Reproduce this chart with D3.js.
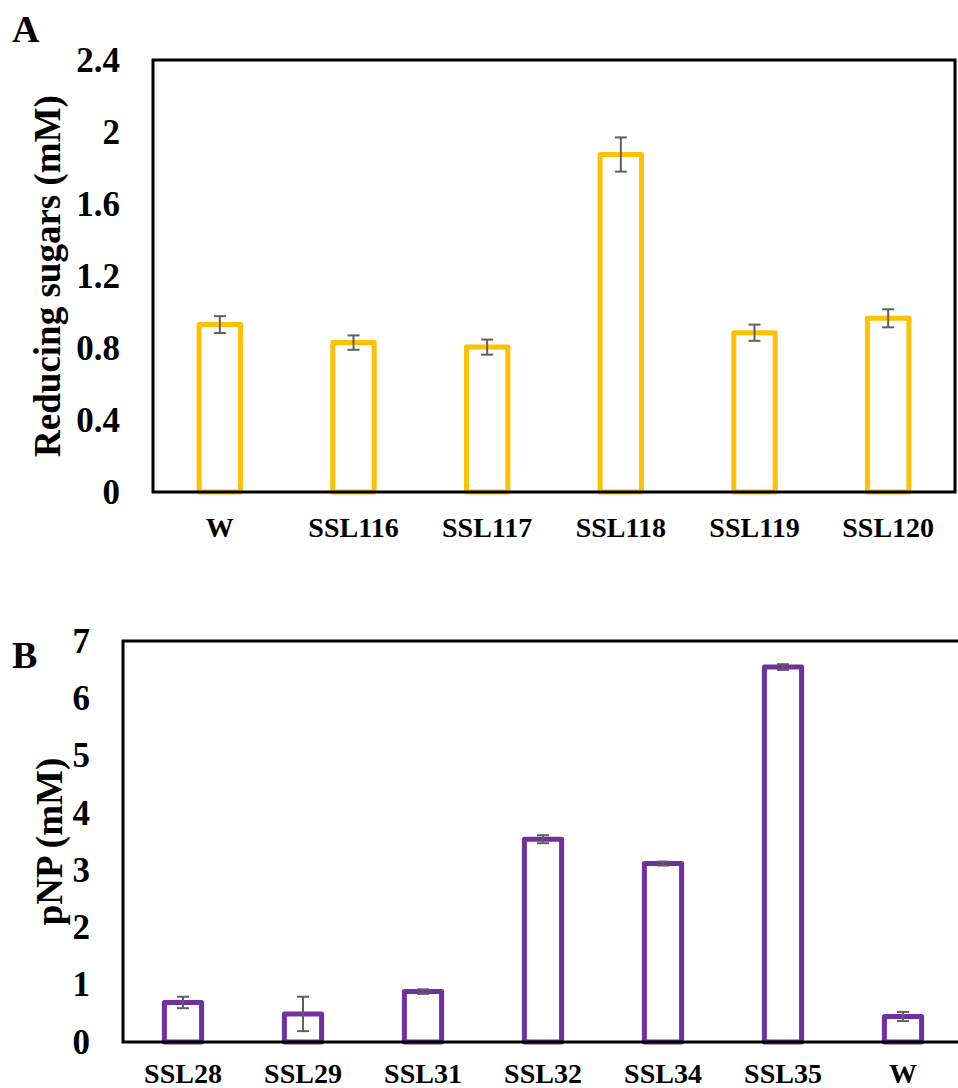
<!DOCTYPE html>
<html>
<head>
<meta charset="utf-8">
<script src="https://cdn.jsdelivr.net/npm/d3@7"></script>
<style>
  html, body { margin: 0; padding: 0; background: #fff; }
  svg { display: block; }
  text { font-family: "Liberation Serif", "Times New Roman", serif; font-weight: bold; fill: #000; }
</style>
</head>
<body>
<script>
// Panel A: reducing sugars released by each strain
const strainsA = ["W", "SSL116", "SSL117", "SSL118", "SSL119", "SSL120"];
const sugarsA = [0.93, 0.83, 0.805, 1.875, 0.885, 0.965];
const sugarsErrA = [0.047, 0.04, 0.042, 0.095, 0.045, 0.05];
const ticksA = [0, 0.4, 0.8, 1.2, 1.6, 2, 2.4];

// Panel B: pNP released by each strain
const strainsB = ["SSL28", "SSL29", "SSL31", "SSL32", "SSL34", "SSL35", "W"];
const pnpB = [0.69, 0.49, 0.88, 3.54, 3.115, 6.545, 0.445];
const pnpErrB = [0.1, 0.3, 0.04, 0.07, 0.035, 0.05, 0.08];
const ticksB = [0, 1, 2, 3, 4, 5, 6, 7];

const W = 958, H = 1088;
const svg = d3.select("body").append("svg").attr("width", W).attr("height", H);

function panel(cfg) {
  const x = d3.scaleBand().domain(cfg.cats).range([cfg.left, cfg.right]);
  const y = d3.scaleLinear().domain([0, cfg.max]).range([cfg.bottom, cfg.top]);
  const barW = x.bandwidth() * 0.31;
  const g = svg.append("g");

  // y axis labels
  const yAxis = d3.axisLeft(y).tickValues(cfg.ticks).tickSize(0).tickPadding(33)
    .tickFormat(d => String(d));
  const ya = g.append("g").attr("transform", `translate(${cfg.left},0)`).call(yAxis);
  ya.select(".domain").remove();
  ya.selectAll("text").attr("font-family", "Liberation Serif, Times New Roman, serif")
    .attr("font-weight", "bold").attr("font-size", 35).attr("fill", "#000");

  // x axis labels
  const xAxis = d3.axisBottom(x).tickSize(0).tickPadding(0);
  const xa = g.append("g").attr("transform", `translate(0,${cfg.bottom})`).call(xAxis);
  xa.select(".domain").remove();
  xa.selectAll("text").attr("font-family", "Liberation Serif, Times New Roman, serif")
    .attr("font-weight", "bold").attr("font-size", 28).attr("fill", "#000")
    .attr("dy", null).attr("y", cfg.labelY - cfg.bottom);

  // hollow bars
  g.append("g").selectAll("rect").data(cfg.vals).join("rect")
    .attr("x", (d, i) => x(cfg.cats[i]) + x.bandwidth() / 2 - barW / 2)
    .attr("y", d => y(d))
    .attr("width", barW)
    .attr("height", d => y(0) - y(d))
    .attr("fill", "none")
    .attr("stroke", cfg.color)
    .attr("stroke-width", 5)
    .attr("stroke-linejoin", "round");

  // error bars
  const eb = g.append("g").attr("stroke", "#5f5f5f").attr("stroke-width", 2);
  cfg.vals.forEach((v, i) => {
    const cx = x(cfg.cats[i]) + x.bandwidth() / 2;
    const lo = y(v - cfg.errs[i]), hi = y(v + cfg.errs[i]);
    eb.append("line").attr("x1", cx).attr("x2", cx).attr("y1", lo).attr("y2", hi);
    eb.append("line").attr("x1", cx - 6).attr("x2", cx + 6).attr("y1", lo).attr("y2", lo);
    eb.append("line").attr("x1", cx - 6).attr("x2", cx + 6).attr("y1", hi).attr("y2", hi);
  });

  // plot frame
  g.append("rect")
    .attr("x", cfg.left).attr("y", cfg.top)
    .attr("width", cfg.right - cfg.left).attr("height", cfg.bottom - cfg.top)
    .attr("fill", "none").attr("stroke", "#000").attr("stroke-width", 3);

  // y axis title
  g.append("text")
    .attr("transform", `translate(${cfg.titleX},${(cfg.top + cfg.bottom) / 2}) rotate(-90)`)
    .attr("text-anchor", "middle")
    .attr("font-size", 37)
    .text(cfg.title);

  // panel letter
  g.append("text").attr("x", cfg.letterX).attr("y", cfg.letterY)
    .attr("font-size", cfg.letterSize).text(cfg.letter);
}

panel({
  cats: strainsA, vals: sugarsA, errs: sugarsErrA, ticks: ticksA, max: 2.4,
  left: 153, right: 955, top: 60, bottom: 492, labelY: 537,
  color: "#FFC000", title: "Reducing sugars (mM)", titleX: 60,
  letter: "A", letterX: 12, letterY: 42, letterSize: 38
});

panel({
  cats: strainsB, vals: pnpB, errs: pnpErrB, ticks: ticksB, max: 7,
  left: 123, right: 963, top: 641, bottom: 1042, labelY: 1083,
  color: "#7030A0", title: "pNP (mM)", titleX: 62,
  letter: "B", letterX: 12, letterY: 668, letterSize: 38
});
</script>
</body>
</html>
